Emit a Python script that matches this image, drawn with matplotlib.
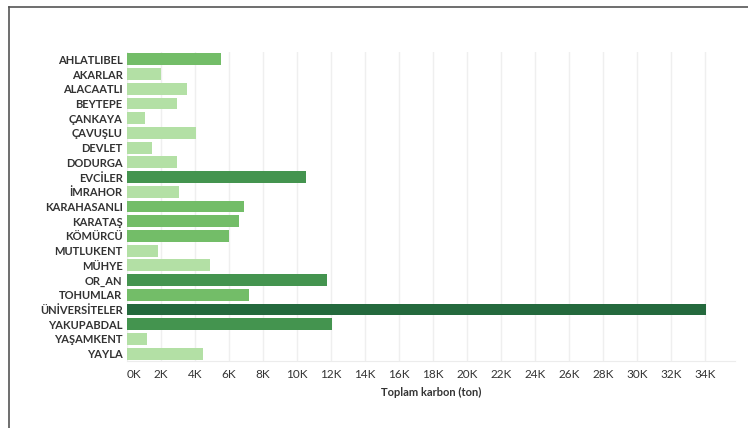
import matplotlib
matplotlib.use("Agg")
import matplotlib.pyplot as plt
from matplotlib.lines import Line2D

categories = ["AHLATLIBEL", "AKARLAR", "ALACAATLI", "BEYTEPE", "ÇANKAYA", "ÇAVUŞLU",
              "DEVLET", "DODURGA", "EVCİLER", "İMRAHOR", "KARAHASANLI", "KARATAŞ",
              "KÖMÜRCÜ", "MUTLUKENT", "MÜHYE", "OR_AN", "TOHUMLAR", "ÜNİVERSİTELER",
              "YAKUPABDAL", "YAŞAMKENT", "YAYLA"]
values = [5550, 2000, 3550, 2960, 1080, 4080, 1490, 2960, 10550, 3080, 6900, 6600,
          6020, 1840, 4900, 11780, 7200, 34080, 12080, 1190, 4490]
tick_values = list(range(0, 34001, 2000))
tick_labels = [f"{v//1000}K" for v in tick_values]

def color_for(v):
    if v >= 20000:
        return "#24693d"
    if v >= 10000:
        return "#44944f"
    if v >= 5000:
        return "#73bd68"
    return "#b3e0a5"

plt.rcParams['font.family'] = ['Lato', 'DejaVu Sans']

fig = plt.figure(figsize=(7.48, 4.28), dpi=100)
ax = fig.add_axes([126.7/748, 1 - 361/428, (735 - 126.7)/748, (361 - 52)/428])

ypos = list(range(len(categories)))
ax.barh(ypos, values, height=0.8, color=[color_for(v) for v in values], zorder=2)
ax.set_ylim(len(categories) - 0.5, -0.5)
ax.set_xlim(0, (735 - 126.7) / 17 * 1000)
ax.set_yticks(ypos)
ax.set_yticklabels(categories, fontsize=8, fontweight='bold', color='#333333')
ax.set_xticks(tick_values)
ax.set_xticklabels(tick_labels, fontsize=8.5, color='#333333')
labs = ax.get_xticklabels()
labs[0].set_horizontalalignment('left')
ax.tick_params(axis='both', length=0)
ax.tick_params(axis='y', pad=3)
ax.tick_params(axis='x', pad=6)
ax.grid(axis='x', color='#efefef', linewidth=1, zorder=0)
for s in ['top', 'right', 'left']:
    ax.spines[s].set_visible(False)
ax.spines['bottom'].set_color('#ececec')
ax.set_xlabel("Toplam karbon (ton)", fontsize=8, fontweight='bold', color='#333333', labelpad=5)

fig.add_artist(Line2D([9/748, 9/748], [0, 1 - 7/428], transform=fig.transFigure, color='#555555', linewidth=1.2))
fig.add_artist(Line2D([9/748, 1], [1 - 7/428, 1 - 7/428], transform=fig.transFigure, color='#555555', linewidth=1.2))

fig.savefig("out.png", dpi=100)
